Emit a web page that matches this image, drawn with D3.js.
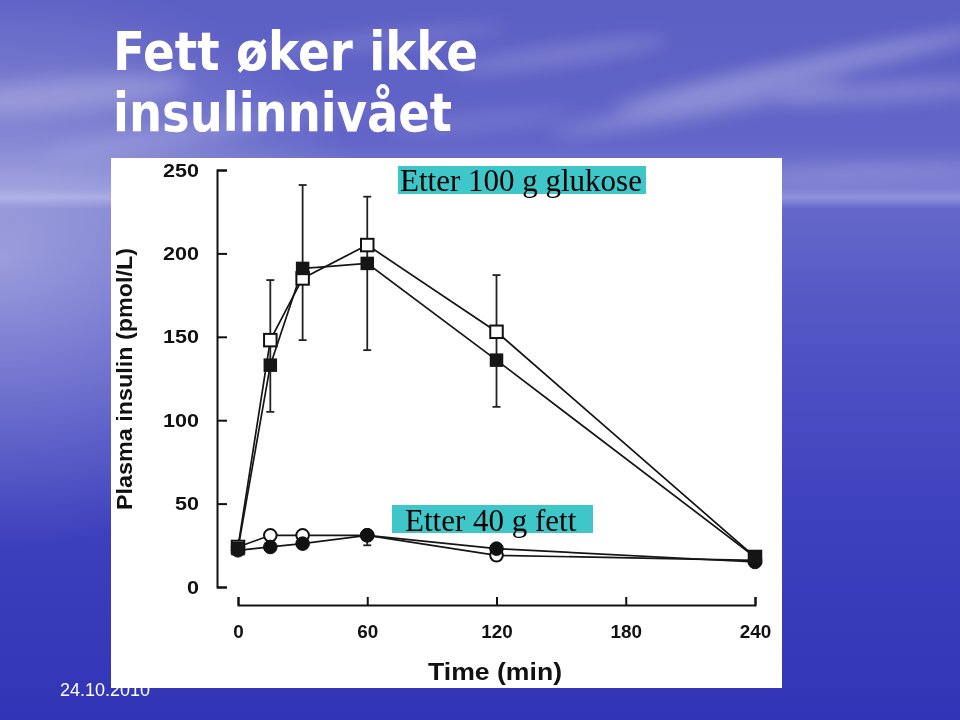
<!DOCTYPE html>
<html><head><meta charset="utf-8">
<script src="https://cdn.jsdelivr.net/npm/d3@7"></script>
<style>html,body{margin:0;padding:0;background:#4a4dc0;} svg{display:block}</style>
</head><body><svg id="c" width="960" height="720"></svg>
<script>
// ---- data ----
const times = [0, 15, 30, 60, 120, 240];
const glucoseOpen = [24, 148, 185, 205, 153, 18];
const glucoseFilled = [23, 133, 191, 194, 136, 18];
const glucoseErrHigh = [null, 184, 241, 234, 187, null];
const glucoseErrLow = [null, 105, 148, 142, 108, null];
const fatOpen = [24, 31, 31, 31, 19, 16];
const fatFilled = [22, 24, 26, 31, 23, 15];
const fatErrLow = [null, null, null, 25, null, null];
const xTicks = [0, 60, 120, 180, 240];
const yTicks = [0, 50, 100, 150, 200, 250];
const titleLines = ["Fett øker ikke", "insulinnivået"];
const annotations = ["Etter 100 g glukose", "Etter 40 g fett"];
const xLabel = "Time (min)";
const yLabel = "Plasma insulin (pmol/L)";
const dateText = "24.10.2010";

const svg = d3.select("#c");
const defs = svg.append("defs");

// ---- background ----
const bg = defs.append("linearGradient").attr("id","bg").attr("x1",0).attr("y1",0).attr("x2",0).attr("y2",1);
[[0,"#5b5ec3"],[0.2,"#6366c8"],[0.262,"#7b7ed2"],[0.274,"#8f92da"],[0.29,"#6568c9"],[0.45,"#5255c4"],[0.7,"#3f42bd"],[1,"#3134b6"]]
  .forEach(([o,c])=>bg.append("stop").attr("offset",o).attr("stop-color",c));
const glow = defs.append("radialGradient").attr("id","glow").attr("cx",0).attr("cy",0.36).attr("r",0.4);
glow.append("stop").attr("offset",0).attr("stop-color","#fff").attr("stop-opacity",0.38);
glow.append("stop").attr("offset",1).attr("stop-color","#fff").attr("stop-opacity",0);
defs.append("filter").attr("id","blur").attr("x","-50%").attr("y","-50%").attr("width","200%").attr("height","200%")
  .append("feGaussianBlur").attr("stdDeviation",9);

svg.append("rect").attr("width",960).attr("height",720).attr("fill","url(#bg)");
svg.append("rect").attr("width",960).attr("height",720).attr("fill","url(#glow)");
const clouds = [
  [800,70,190,10,-12,0.3],[700,108,150,8,-10,0.25],[890,92,110,8,-4,0.25],[560,55,110,9,-8,0.2],
  [60,95,130,16,-5,0.22],[150,140,110,10,-8,0.15],[380,40,130,8,-6,0.15],[870,172,120,6,-2,0.2],
  [480,122,90,6,-6,0.15],[300,112,90,6,-4,0.12]
];
const cg = svg.append("g").attr("filter","url(#blur)");
clouds.forEach(([cx,cy,rx,ry,rot,op])=>{
  cg.append("ellipse").attr("cx",cx).attr("cy",cy).attr("rx",rx).attr("ry",ry)
    .attr("transform",`rotate(${rot},${cx},${cy})`).attr("fill","#fff").attr("opacity",op);
});

// ---- title ----
const title = svg.append("g").attr("fill","#fff").attr("font-family","'DejaVu Sans', Verdana, sans-serif").attr("font-weight","bold").attr("font-size",53);
title.append("text").attr("x",113).attr("y",70).attr("textLength",365).attr("lengthAdjust","spacingAndGlyphs").text(titleLines[0]);
title.append("text").attr("x",113).attr("y",131).attr("textLength",339).attr("lengthAdjust","spacingAndGlyphs").text(titleLines[1]);

// ---- date (behind panel) ----
svg.append("text").attr("x",60).attr("y",696).attr("fill","#fff").attr("font-family","'Liberation Sans', Arial, sans-serif")
  .attr("font-size",18).text(dateText);

// ---- white panel ----
svg.append("rect").attr("x",111).attr("y",158).attr("width",671).attr("height",530).attr("fill","#fff");

// ---- scales ----
const x = d3.scaleLinear().domain([0,240]).range([238,755]);
const y = d3.scaleLinear().domain([0,250]).range([587,170]);

const axFont = "'Liberation Sans', Arial, Helvetica, sans-serif";
// y axis
const yAx = svg.append("g").attr("transform","translate(217,0)")
  .call(d3.axisLeft(y).tickValues(yTicks).tickSizeInner(-10).tickSizeOuter(-10).tickPadding(18));
yAx.selectAll("path,line").attr("stroke","#111").attr("stroke-width",2);
yAx.selectAll("text").attr("font-family",axFont).attr("font-weight","bold").attr("font-size",19).attr("fill","#111")
  .attr("textLength",36).attr("lengthAdjust","spacingAndGlyphs")
  .each(function(d){ const n = String(d).length; d3.select(this).attr("textLength", n*12); });

// x axis
const xAx = svg.append("g").attr("transform","translate(0,605)")
  .call(d3.axisBottom(x).tickValues(xTicks).tickSizeInner(-8).tickSizeOuter(-8).tickPadding(20));
xAx.selectAll("path,line").attr("stroke","#111").attr("stroke-width",2);
xAx.selectAll("text").attr("font-family",axFont).attr("font-weight","bold").attr("font-size",18).attr("fill","#111")
  .attr("lengthAdjust","spacingAndGlyphs")
  .each(function(d){ const n = String(d).length; d3.select(this).attr("textLength", n*10.5); });

// axis labels
svg.append("text").attr("x",495).attr("y",680).attr("text-anchor","middle").attr("font-family",axFont).attr("font-weight","bold")
  .attr("font-size",24).attr("fill","#111").attr("textLength",134).attr("lengthAdjust","spacingAndGlyphs").text(xLabel);
svg.append("text").attr("transform","translate(132,379) rotate(-90)").attr("text-anchor","middle").attr("font-family",axFont).attr("font-weight","bold")
  .attr("font-size",22).attr("fill","#111").attr("textLength",262).attr("lengthAdjust","spacingAndGlyphs").text(yLabel);

// ---- lines ----
const idx = d3.range(times.length);
const lineOf = arr => d3.line().x(i=>x(times[i])).y(i=>y(arr[i]))(idx);
[fatOpen, fatFilled, glucoseOpen, glucoseFilled].forEach(arr=>{
  svg.append("path").attr("d",lineOf(arr)).attr("fill","none").attr("stroke","#151515").attr("stroke-width",1.7);
});

// ---- error bars ----
const eb = svg.append("g").attr("stroke","#222").attr("stroke-width",1.8);
idx.forEach(i=>{
  if (glucoseErrHigh[i]!=null) {
    const cx = x(times[i]);
    eb.append("line").attr("x1",cx).attr("x2",cx).attr("y1",y(glucoseErrLow[i])).attr("y2",y(glucoseErrHigh[i]));
    eb.append("line").attr("x1",cx-4).attr("x2",cx+4).attr("y1",y(glucoseErrHigh[i])).attr("y2",y(glucoseErrHigh[i]));
    eb.append("line").attr("x1",cx-4).attr("x2",cx+4).attr("y1",y(glucoseErrLow[i])).attr("y2",y(glucoseErrLow[i]));
  }
  if (fatErrLow[i]!=null) {
    const cx = x(times[i]);
    eb.append("line").attr("x1",cx).attr("x2",cx).attr("y1",y(fatFilled[i])).attr("y2",y(fatErrLow[i]));
    eb.append("line").attr("x1",cx-4).attr("x2",cx+4).attr("y1",y(fatErrLow[i])).attr("y2",y(fatErrLow[i]));
  }
});

// ---- markers ----
const mk = svg.append("g");
mk.selectAll(".fo").data(idx).join("circle").attr("cx",i=>x(times[i])).attr("cy",i=>y(fatOpen[i])).attr("r",6.3)
  .attr("fill","#fff").attr("stroke","#111").attr("stroke-width",2);
mk.selectAll(".ff").data(idx).join("circle").attr("cx",i=>x(times[i])).attr("cy",i=>y(fatFilled[i])).attr("r",6.8)
  .attr("fill","#111").attr("stroke","#111").attr("stroke-width",1);
const s = 12.5;
mk.selectAll(".go").data(idx).join("rect").attr("x",i=>x(times[i])-s/2).attr("y",i=>y(glucoseOpen[i])-s/2).attr("width",s).attr("height",s)
  .attr("fill","#fff").attr("stroke","#111").attr("stroke-width",2);
mk.selectAll(".gf").data(idx).join("rect").attr("x",i=>x(times[i])-s/2-0.5).attr("y",i=>y(glucoseFilled[i])-s/2-0.5).attr("width",s+1).attr("height",s+1)
  .attr("fill","#151515");

// ---- annotations ----
const ann = svg.append("g").attr("font-family","'Liberation Serif', 'Times New Roman', serif").attr("font-size",31).attr("fill","#000");
ann.append("rect").attr("x",398).attr("y",166).attr("width",248).attr("height",28).attr("fill","#3ec6c8");
ann.append("text").attr("x",400).attr("y",191).text(annotations[0]);
ann.append("rect").attr("x",392).attr("y",505).attr("width",201).attr("height",28).attr("fill","#3ec6c8");
ann.append("text").attr("x",405).attr("y",531).text(annotations[1]);
</script></body></html>
